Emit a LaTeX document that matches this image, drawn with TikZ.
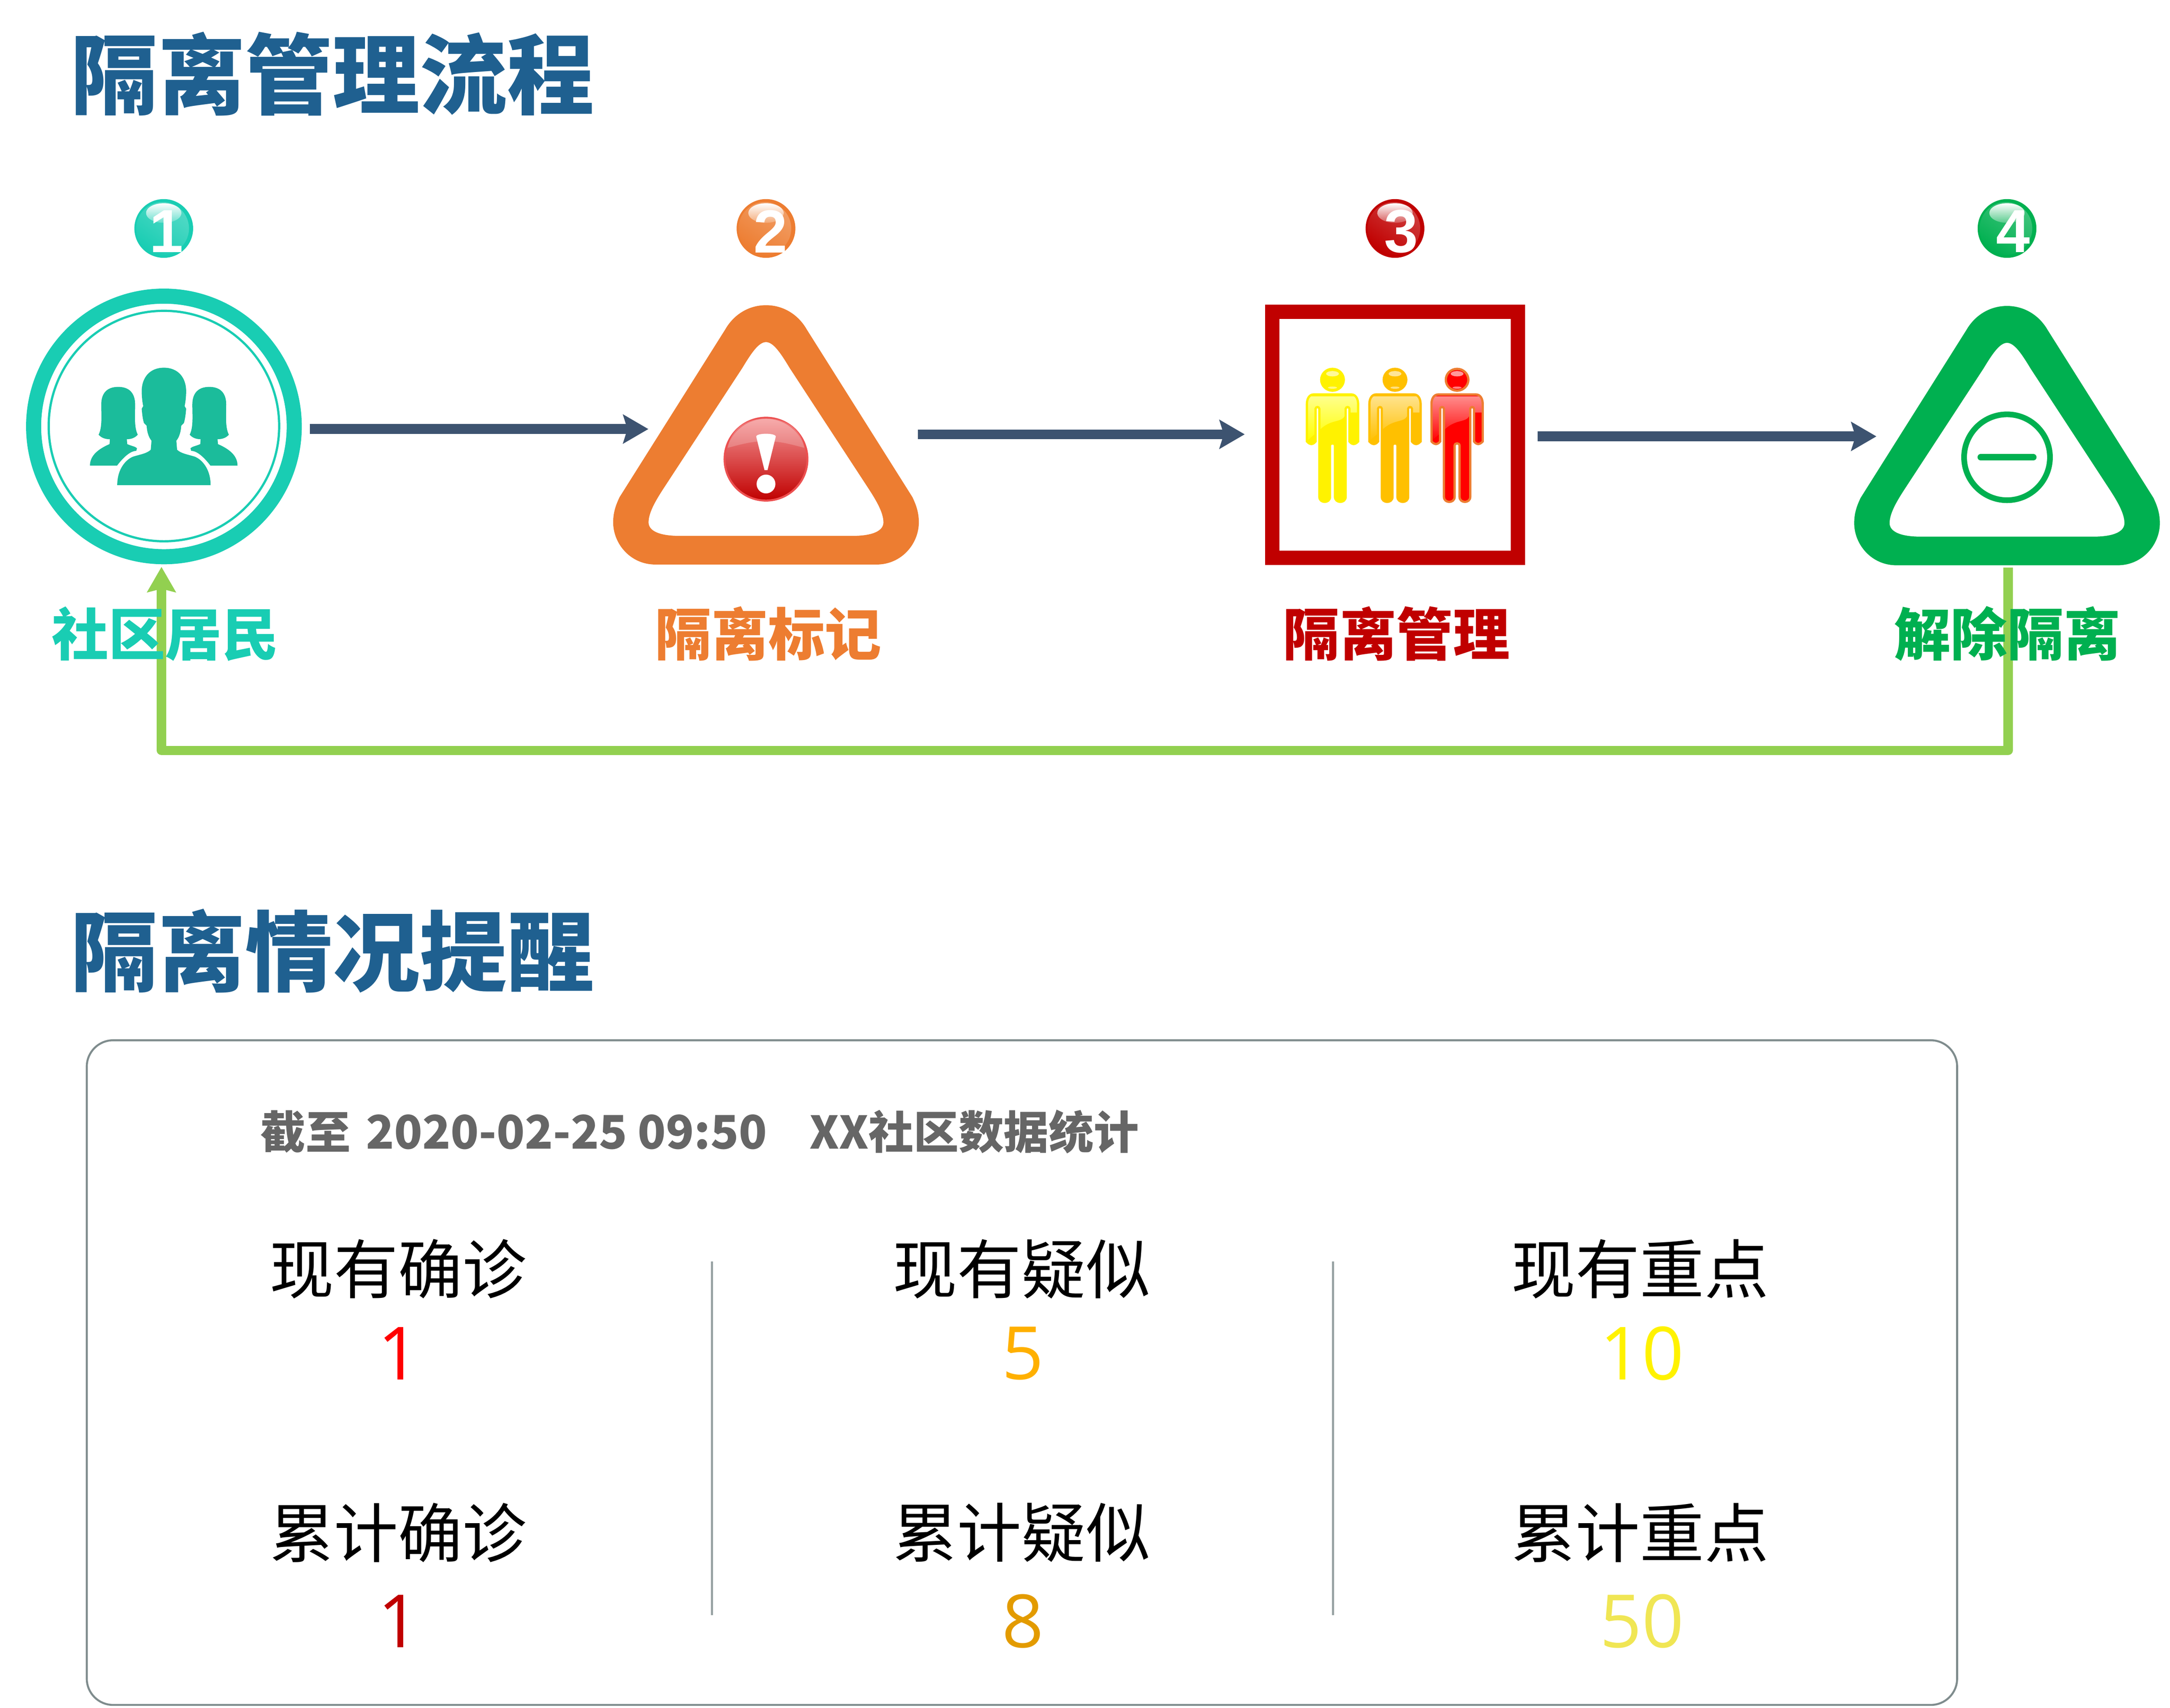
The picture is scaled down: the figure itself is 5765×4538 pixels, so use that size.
\documentclass[tikz,border=0pt]{standalone}
\usepackage{fontspec}
\usetikzlibrary{arrows.meta}
\setmainfont{Noto Sans CJK SC}
\newfontfamily\numfont{Open Sans}
\newfontfamily\ballfont{Liberation Sans}
\definecolor{titleblue}{HTML}{1F6090}
\definecolor{ringteal}{HTML}{19CDB3}
\definecolor{manteal}{HTML}{1BBC9B}
\definecolor{markorange}{HTML}{ED7D31}
\definecolor{guardred}{HTML}{C00000}
\definecolor{freegreen}{HTML}{00B050}
\definecolor{flowblue}{HTML}{3D5370}
\definecolor{backgreen}{HTML}{92D050}
\definecolor{panelgrey}{HTML}{7F8C8D}
\definecolor{headgrey}{HTML}{666666}
\definecolor{manamber}{HTML}{FFC000}
\definecolor{numamber}{HTML}{FFB000}
\definecolor{numdeep}{HTML}{E39B00}
\definecolor{numpale}{HTML}{F0E654}
\tikzset{
  sectiontitle/.style={text=titleblue,font=\fontsize{65.9pt}{70pt}\selectfont\bfseries,inner sep=0,anchor=west},
  steplabel/.style={font=\fontsize{42.8pt}{46pt}\selectfont\bfseries,inner sep=0},
  statlabel/.style={font=\fontsize{48.6pt}{52pt}\selectfont,inner sep=0},
  statnum/.style={font=\fontsize{55.5pt}{60pt}\selectfont\numfont,inner sep=0},
  ballnum/.style={font=\fontsize{46pt}{50pt}\selectfont\ballfont\bfseries,text=white,inner sep=0},
  flowarrow/.style={draw=flowblue,line width=7.4pt,-{Stealth[length=19pt,width=21.6pt,inset=3.2pt,fill=flowblue]}},
  backarrow/.style={draw=backgreen,line width=7pt,line join=round,-{Stealth[length=19pt,width=21.3pt,inset=2.5pt,fill=backgreen]}},
  divider/.style={draw=panelgrey!80,line width=1.6pt},
  pics/roundtri/.style={code={
    \fill[even odd rule,pic actions]
      (-294,0) -- (294,0) .. controls (360,0) and (406,-55) .. (406,-112)
      .. controls (406,-140) and (398,-160) .. (389,-179) -- (108,-625)
      .. controls (85,-665) and (45,-689) .. (0,-689)
      .. controls (-45,-689) and (-85,-665) .. (-108,-625) -- (-389,-179)
      .. controls (-398,-160) and (-406,-140) .. (-406,-112)
      .. controls (-406,-55) and (-360,0) .. (-294,0) -- cycle
      (-229,-76) -- (229,-76) .. controls (285,-76) and (312,-90) .. (312,-112)
      .. controls (312,-140) and (290,-175) .. (267,-210) -- (63,-522)
      .. controls (40,-560) and (20,-591) .. (0,-591)
      .. controls (-20,-591) and (-40,-560) .. (-63,-522) -- (-267,-210)
      .. controls (-290,-175) and (-312,-140) .. (-312,-112)
      .. controls (-312,-90) and (-285,-76) .. (-229,-76) -- cycle;
  }},
  pics/sideman/.style={code={
    \fill[manteal] (0,1028) .. controls (30,1028) and (45,1045) .. (45,1075)
      .. controls (45,1105) and (42,1135) .. (52,1155) .. controls (45,1163) and (35,1167) .. (23,1167)
      -- (24,1180) .. controls (35,1185) and (45,1186) .. (50,1191) -- (48,1198)
      .. controls (30,1198) and (10,1220) .. (-3,1237) -- (-75,1237)
      .. controls (-75,1215) and (-60,1196) .. (-23,1180) -- (-22,1167)
      .. controls (-35,1167) and (-45,1163) .. (-52,1155) .. controls (-42,1135) and (-45,1105) .. (-45,1075)
      .. controls (-45,1045) and (-30,1028) .. (0,1028) -- cycle;
  }},
  pics/midman/.style={code={
    \fill[manteal] (0,977) .. controls (39,977) and (59,1005) .. (59,1039)
      .. controls (59,1055) and (57,1070) .. (55,1079) -- (59,1086)
      .. controls (58,1100) and (56,1115) .. (53,1124) -- (46,1131)
      .. controls (45,1145) and (42,1160) .. (33,1171) -- (35,1195)
      .. controls (45,1205) and (65,1208) .. (81,1213)
      .. controls (100,1220) and (124,1245) .. (124,1289) -- (-124,1289)
      .. controls (-124,1245) and (-100,1220) .. (-81,1213)
      .. controls (-65,1208) and (-45,1205) .. (-35,1195) -- (-33,1171)
      .. controls (-42,1160) and (-45,1145) .. (-46,1131) -- (-53,1124)
      .. controls (-56,1115) and (-58,1100) .. (-59,1086) -- (-55,1079)
      .. controls (-57,1070) and (-59,1055) .. (-59,1039)
      .. controls (-59,1005) and (-39,977) .. (0,977) -- cycle;
  }},
  pics/guard/.style 2 args={code={
    \path[fill=#1,draw=#2,line width=1.7pt] (0,-39) ellipse (30 and 29);
    \fill[white,opacity=.6] (0,-55) ellipse (17 and 7);
    \fill[white,opacity=.5] (0,-18) ellipse (12 and 3);
    \begin{scope}
      \path[clip] (-50,0) -- (50,0) .. controls (62,0) and (68,12) .. (68,25) -- (68,125)
        .. controls (60,134) and (52,134) .. (45,125) -- (45,38) .. controls (44,32) and (36,32) .. (35,38)
        -- (35,272) .. controls (35,290) and (6.5,290) .. (6.5,272) -- (6.5,136)
        .. controls (6.5,128) and (-6.5,128) .. (-6.5,136) -- (-6.5,272)
        .. controls (-6.5,290) and (-35,290) .. (-35,272) -- (-35,38) .. controls (-36,32) and (-44,32) .. (-45,38)
        -- (-45,125) .. controls (-52,134) and (-60,134) .. (-68,125) -- (-68,25)
        .. controls (-68,12) and (-62,0) .. (-50,0) -- cycle;
      \fill[#1] (-80,-5) rectangle (80,300);
      \shade[top color=#1!45!white,bottom color=#1] (-70,5) -- (70,5) -- (70,48) -- (35,48)
        .. controls (30,80) and (0,60) .. (-35,95) -- (-70,125) -- cycle;
    \end{scope}
    \draw[#2,line width=1.7pt] (-50,0) -- (50,0) .. controls (62,0) and (68,12) .. (68,25) -- (68,125)
      .. controls (60,134) and (52,134) .. (45,125) -- (45,38) .. controls (44,32) and (36,32) .. (35,38)
      -- (35,272) .. controls (35,290) and (6.5,290) .. (6.5,272) -- (6.5,136)
      .. controls (6.5,128) and (-6.5,128) .. (-6.5,136) -- (-6.5,272)
      .. controls (-6.5,290) and (-35,290) .. (-35,272) -- (-35,38) .. controls (-36,32) and (-44,32) .. (-45,38)
      -- (-45,125) .. controls (-52,134) and (-60,134) .. (-68,125) -- (-68,25)
      .. controls (-68,12) and (-62,0) .. (-50,0) -- cycle;
  }}
}
\begin{document}
\begin{tikzpicture}[x=0.01cm,y=-0.01cm]
\useasboundingbox (0,0) rectangle (5765,4538);
% top row
\node[sectiontitle] (flowtitle) at (188,196) {隔离管理流程};
\node[circle,draw=ringteal,line width=11.4pt,minimum size=6.92cm,inner sep=0] (resident) at (435.5,1133) {};
\node[circle,draw=ringteal,line width=1.7pt,minimum size=6.12cm,inner sep=0] (residentin) at (435.5,1132) {};
\pic at (314,0) {sideman};
\pic[xscale=-1] at (556,0) {sideman};
\pic at (435.5,0) {midman};
\node[minimum width=8.11cm,minimum height=6.89cm,inner sep=0] (mark) at (2035,1154.5) {};
\pic[fill=markorange] at (mark.south) {roundtri};
\node[circle,top color=red!30!white!85!guardred,middle color=red!55!white!80!guardred,bottom color=guardred,draw=red!55!white!70!guardred,line width=1.5pt,minimum size=2.2cm,inner sep=0] (alert) at (2035,1220) {};
\fill[white,opacity=.2] (1933,1190) .. controls (1945,1130) and (1990,1112) .. (2035,1112)
  .. controls (2080,1112) and (2125,1130) .. (2137,1190) .. controls (2100,1180) and (2070,1172) .. (2035,1172)
  .. controls (2000,1172) and (1970,1180) .. (1933,1190) -- cycle;
\fill[white] (2009,1160) .. controls (2009,1150) and (2061,1150) .. (2061,1160) -- (2039,1249) -- (2031,1249) -- cycle;
\fill[white] (2035,1286) ellipse (25 and 25);
\node[draw=guardred,line width=10.8pt,minimum width=6.52cm,minimum height=6.53cm,inner sep=0] (quarantine) at (3706,1155.5) {};
\pic at (3540,1048) {guard={yellow}{yellow}};
\pic at (3706,1048) {guard={manamber}{manamber}};
\pic at (3871,1048) {guard={red}{markorange}};
\node[minimum width=8.12cm,minimum height=6.88cm,inner sep=0] (release) at (5332,1157) {};
\pic[fill=freegreen] at (release.south) {roundtri};
\node[circle,draw=freegreen,line width=4.3pt,minimum size=2.28cm,inner sep=0] (minus) at (5332,1215) {};
\draw[freegreen,line width=4.8pt,line cap=round] ([shift={(-70,0)}]minus.center) -- ([shift={(70,0)}]minus.center);
% round number marks
\foreach \n/\cx/\col/\dx in {1/435/ringteal/7,2/2035/markorange/12,3/3706/guardred/17,4/5332/freegreen/16}{
  \node[circle,fill=\col,minimum size=1.56cm,inner sep=0] (ball\n) at (\cx,607) {};
  \shade[left color=\col!75!white,right color=\col,shading angle=-35] (\cx-3,607) circle (70);
  \shade[top color=white,bottom color=\col!65!white] (\cx,566) ellipse (47 and 26);
  \node[ballnum] (ballnum\n) at ([shift={(\dx,8)}]ball\n) {\n};
}
% connectors
\draw[flowarrow] ([shift={(21,7)}]resident.east) -- ([shift={(94,-14.5)}]mark.west);
\draw[flowarrow] ([shift={(-3,-0.5)}]mark.east) -- ([shift={(-54,-1.5)}]quarantine.west);
\draw[flowarrow] ([shift={(34,4)}]quarantine.east) -- ([shift={(60,2.5)}]release.west);
\draw[backarrow] ([shift={(3,6)}]release.south) -- ++(0,486) -| ([shift={(-6.5,7)}]resident.south);
\node[steplabel,text=ringteal] (residentlab) at (439,1684) {社区居民};
\node[steplabel,text=markorange] (marklab) at (2041,1684) {隔离标记};
\node[steplabel,text=guardred] (guardlab) at (3710,1684) {隔离管理};
\node[steplabel,text=freegreen] (releaselab) at (5333,1684) {解除隔离};
% lower panel
\node[sectiontitle] (remindtitle) at (188,2527) {隔离情况提醒};
\node[draw=panelgrey,line width=1.5pt,rounded corners=0.7cm,minimum width=49.66cm,minimum height=17.65cm,inner sep=0] (panel) at (2715,3647) {};
\node[text=headgrey,font=\fontsize{34pt}{38pt}\selectfont\bfseries,inner sep=0,anchor=west] (stamp) at (692,3007) {截至\hspace{11.5pt}{\fontsize{35pt}{38pt}\selectfont 2020-02-25 09:50}\hspace{0.95em}XX社区数据统计};
\node[statlabel] (nowa) at (1058,3372) {现有确诊};
\node[statlabel] (nowb) at (2714,3372) {现有疑似};
\node[statlabel] (nowc) at (4357,3372) {现有重点};
\node[statlabel] (suma) at (1058,4072) {累计确诊};
\node[statlabel] (sumb) at (2714,4072) {累计疑似};
\node[statlabel] (sumc) at (4357,4072) {累计重点};
\node[statnum,text=red] (nownuma) at (1060,3596) {1};
\node[statnum,text=numamber] (nownumb) at (2717,3596) {5};
\node[statnum,text=yellow] (nownumc) at (4362,3596) {10};
\node[statnum,text=guardred] (sumnuma) at (1060,4308) {1};
\node[statnum,text=numdeep] (sumnumb) at (2717,4308) {8};
\node[statnum,text=numpale] (sumnumc) at (4362,4308) {50};
\coordinate (divatop) at (1891,3352);
\coordinate (divabot) at (1891,4291);
\coordinate (divbtop) at (3541,3352);
\coordinate (divbbot) at (3541,4291);
\draw[divider] (divatop) -- (divabot);
\draw[divider] (divbtop) -- (divbbot);
\end{tikzpicture}
\end{document}
